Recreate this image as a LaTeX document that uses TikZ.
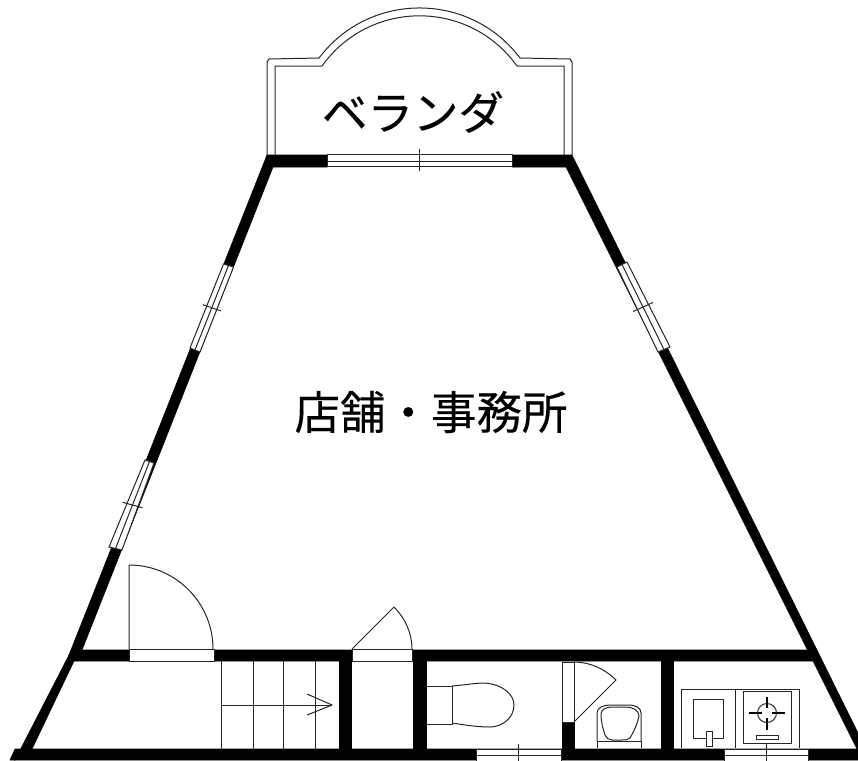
\documentclass[tikz,border=0pt]{standalone}
\usepackage{fontspec}
\usetikzlibrary{calc}
\newfontfamily\jpfont[FakeBold=0.3]{Noto Sans CJK JP}
\tikzset{
  wall/.style={fill=black,draw=black,line width=0.6pt},
  thin line/.style={draw=black!85,line width=1pt,line join=round},
  opening/.style={fill=white,draw=black!85,line width=1pt},
  heavy/.style={draw=black,line width=2.2pt},
  room label/.style={font=\jpfont\fontsize{45.5}{46}\selectfont,inner sep=0pt,text=black}
}
\newcommand{\windowbay}[5][.5]{%
  \filldraw[opening] #2 -- #3 -- #4 -- #5 -- cycle;
  \draw[thin line] ($#2!#1!#3$) -- ($#5!#1!#4$);
  \coordinate (wl) at ($#2!.5!#5$);
  \coordinate (wr) at ($#3!.5!#4$);
  \draw[thin line] ($(wl)!-.4!(wr)$) -- ($(wl)!1.4!(wr)$);
}
\begin{document}
\begin{tikzpicture}[x=1pt,y=-1pt]
\useasboundingbox (0,0) rectangle (858,760);
\clip (0,0) rectangle (858,760);
% veranda
\draw[thin line] (267,155) -- (267,62) -- (269,59) -- (319,58)
  .. controls (369.4,-8.7) and (469.6,-8.7) .. (520,58)
  -- (570,59) -- (572,62) -- (572,155);
\draw[thin line] (275,155) -- (275,66) -- (322,66)
  .. controls (370,-0.9) and (469,-0.9) .. (517,66)
  -- (564,66) -- (564,155);
% exterior walls
\fill[wall] (267,155) -- (327,155) -- (327,167) -- (273,167) -- (82,650)
  -- (74,661) -- (32,749) -- (15,760) -- (68,657) -- (71,650) -- cycle;
\fill[wall] (512,155) -- (572,155) -- (858,733) -- (858,748) -- (857,749) -- (566,167) -- (512,167) -- cycle;
% interior walls
\fill[wall] (72,650) -- (810,650) -- (816,661) -- (68,661) -- cycle;
\fill[wall] (15,749) -- (858,749) -- (858,760) -- (10,760) -- cycle;
\fill[wall] (339,661) rectangle (351,749);
\fill[wall] (413,661) rectangle (426,749);
\fill[wall] (562,722) rectangle (574,749);
\fill[wall] (661,661) rectangle (673,749);
% windows
\windowbay[.63]{(327,154)}{(327,166)}{(512,166)}{(512,154)}
\windowbay{(223.5,264)}{(233.5,267)}{(200,352)}{(190,348)}
\windowbay{(145,460)}{(154,463)}{(122,550)}{(109,547)}
\windowbay{(617,267)}{(627,262)}{(670,347)}{(658,352)}
\windowbay{(476,749)}{(476,762)}{(561,762)}{(561,749)}
\windowbay{(724,749)}{(724,762)}{(808,762)}{(808,749)}
% door openings
\filldraw[opening] (129,649) rectangle (214,661);
\filldraw[opening] (352,649) rectangle (412,661);
\filldraw[opening] (562,662) rectangle (574,722);
% door leaves
\draw[thin line] (129,649) -- (129,565) .. controls (175.4,565) and (213,602.6) .. (213,649);
\draw[thin line] (352,649) -- (394,607) .. controls (405,618) and (412,633) .. (412,649);
\draw[thin line] (574,722) -- (616,680) .. controls (605,669) and (590,662) .. (574,662);
% stairs
\draw[thin line] (221,661) -- (221,749);
\draw[thin line] (253,661) -- (253,749);
\draw[thin line] (283,661) -- (283,749);
\draw[thin line] (315,661) -- (315,749);
\draw[thin line] (221,705) -- (332,705);
\draw[thin line] (307,694) -- (332,705) -- (307,715);
% toilet
\draw[thin line] (426,686) -- (452,686) -- (452,724) -- (426,724);
\draw[thin line] (452,686) .. controls (465,685) and (475,683) .. (484,683)
  .. controls (502,684) and (514,694) .. (514,705)
  .. controls (514,718) and (502,727) .. (490,727)
  .. controls (477,727) and (465,725) .. (452,723);
% basin
\draw[thin line] (597,748) -- (597,741) -- (641,741) -- (641,748);
\draw[thin line] (597,741) -- (597,713) .. controls (597,708) and (603,705) .. (610,705)
  -- (628,705) .. controls (636,705) and (641,708) .. (641,713) -- (641,741);
\draw[thin line] (601,714) .. controls (601,709) and (607,707) .. (612,707)
  -- (626,707) .. controls (632,707) and (639,710) .. (639,716)
  .. controls (637,725) and (634,731) .. (630,738)
  .. controls (628,740) and (625,740) .. (622,740) -- (612,740)
  .. controls (609,740) and (606,738) .. (605,735)
  .. controls (603,729) and (601,722) .. (601,714) -- cycle;
% kitchen
\draw[thin line] (681,748) -- (681,689) -- (799,689) -- (799,748);
\draw[thin line] (735,689) -- (735,748);
\draw[thin line] (693,699) rectangle (723,738);
\filldraw[opening] (706,731) rectangle (712,746);
\draw[thin line] (743,691) rectangle (791,743);
\draw[thin line] (767,713) circle[radius=9.5];
\draw[heavy] (749,713) -- (762,713) (772,713) -- (785,713);
\draw[heavy] (767,697) -- (767,708) (767,718) -- (767,730);
\draw[thin line] (756,735) rectangle (778,739);
% labels
\node[room label] (veranda) at (413,112) {ベランダ};
\node[room label] (shop) at (431,412) {店舗・事務所};
\end{tikzpicture}
\end{document}
